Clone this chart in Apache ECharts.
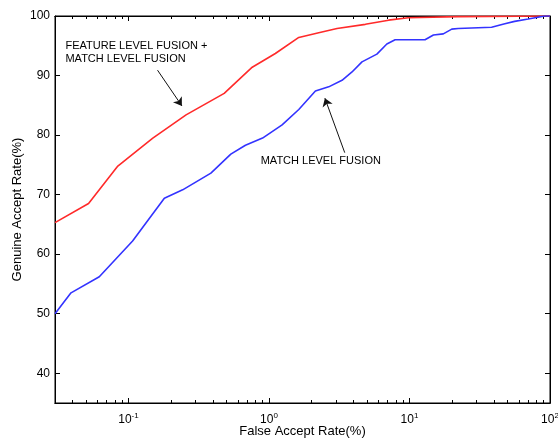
<!DOCTYPE html>
<html>
<head>
<meta charset="utf-8">
<script src="https://cdn.jsdelivr.net/npm/echarts@6/dist/echarts.min.js"></script>
<style>
    html, body { margin: 0; padding: 0; background: #fff; }
    #chart { width: 558px; height: 440px; }
</style>
</head>
<body>
<div id="chart"></div>
<script>
// feature level + match level fusion (red)
const fusionFar = [0.03, 0.052, 0.084, 0.149, 0.257, 0.48, 0.76, 1.11, 1.63, 2.26, 3.05, 4.85, 7.1, 9.8, 22, 100]
const fusionGar = [65.3, 68.5, 74.8, 79.5, 83.4, 87.0, 91.4, 93.7, 96.4, 97.2, 97.9, 98.6, 99.3, 99.7, 99.9, 100]

// match level fusion only (blue)
const matchFar = [0.03, 0.039, 0.062, 0.107, 0.18, 0.243, 0.386, 0.535, 0.68, 0.90, 1.24, 1.63, 2.14, 2.66, 3.31, 3.9,
    4.59, 5.86, 6.9, 7.9, 12.9, 14.8, 17.4, 20, 22.2, 38.4, 47.7, 56, 69.9, 82, 91.6, 100]
const matchGar = [50.0, 53.5, 56.2, 62.2, 69.4, 70.8, 73.6, 76.8, 78.3, 79.5, 81.7, 84.3, 87.4, 88.1, 89.2, 90.6,
    92.3, 93.6, 95.3, 96.0, 96.0, 96.8, 97.0, 97.8, 97.9, 98.1, 98.7, 99.1, 99.5, 99.8, 100, 100]

// axis ticks
const xMajor = [0.1, 1, 10, 100]
const xMinor = [0.04, 0.05, 0.06, 0.07, 0.08, 0.09, 0.2, 0.3, 0.4, 0.5, 0.6, 0.7, 0.8, 0.9,
    2, 3, 4, 5, 6, 7, 8, 9, 20, 30, 40, 50, 60, 70, 80, 90]
const yTicks = [40, 50, 60, 70, 80, 90, 100]

const font = 'Liberation Sans, Arial, sans-serif'

const pairs = (xs, ys) => xs.map((x, i) => [x, ys[i]])

function logAxis(position, ticks, len, withLabel) {
    return {
        type: 'log',
        logBase: 10,
        min: 0.03,
        max: 100,
        position: position,
        axisLine: { show: true, onZero: false, lineStyle: { color: '#000', width: 1 } },
        splitLine: { show: false },
        axisTick: {
            show: true,
            inside: true,
            length: len,
            customValues: ticks,
            lineStyle: { color: '#000', width: 1 }
        },
        axisLabel: withLabel ? {
            show: true,
            customValues: xMajor,
            margin: 9,
            fontFamily: font,
            color: '#000',
            formatter: v => `{b|10}{e|${Math.round(Math.log10(v))}}`,
            rich: {
                b: { fontSize: 12, fontFamily: font, color: '#000' },
                e: { fontSize: 8, fontFamily: font, color: '#000', padding: [0, 0, 7, 0] }
            }
        } : { show: false },
        name: withLabel ? 'False Accept Rate(%)' : '',
        nameLocation: 'middle',
        nameMoveOverlap: false,
        nameGap: 22,
        nameTextStyle: { fontFamily: font, fontSize: 13, color: '#000' }
    }
}

function valAxis(position, withLabel) {
    return {
        type: 'value',
        min: 35,
        max: 100,
        position: position,
        axisLine: { show: true, onZero: false, lineStyle: { color: '#000', width: 1 } },
        splitLine: { show: false },
        axisTick: {
            show: true,
            inside: true,
            length: 5,
            customValues: yTicks,
            lineStyle: { color: '#000' }
        },
        axisLabel: withLabel ? {
            show: true,
            customValues: yTicks,
            margin: 5,
            fontFamily: font,
            fontSize: 12,
            color: '#000'
        } : { show: false },
        name: withLabel ? 'Genuine Accept Rate(%)' : '',
        nameLocation: 'middle',
        nameMoveOverlap: false,
        nameGap: 31,
        nameTextStyle: { fontFamily: font, fontSize: 13, color: '#000' }
    }
}

const noteLabel = {
    show: true,
    position: [0, 0],
    align: 'left',
    verticalAlign: 'middle',
    fontFamily: font,
    fontSize: 11,
    lineHeight: 13,
    color: '#000'
}

const option = {
    animation: false,
    backgroundColor: '#fff',
    grid: {
        left: 55, right: 8, top: 16, bottom: 37,
        containLabel: false,
        outerBoundsMode: 'none',
        show: true,
        borderColor: '#000',
        borderWidth: 1
    },
    xAxis: [
        logAxis('bottom', xMajor, 5, true),
        logAxis('bottom', xMinor, 3, false),
        logAxis('top', xMajor, 5, false),
        logAxis('top', xMinor, 3, false)
    ],
    yAxis: [
        valAxis('left', true),
        valAxis('right', false)
    ],
    series: [
        {
            type: 'line',
            data: pairs(fusionFar, fusionGar),
            showSymbol: false,
            lineStyle: { color: '#ff2a2a', width: 1.6 },
            itemStyle: { color: '#ff2a2a' },
            z: 3,
            markLine: {
                silent: true,
                symbol: ['none', 'arrow'],
                symbolSize: 8,
                label: { show: false },
                lineStyle: { color: '#111', width: 1, type: 'solid' },
                data: [
                    [{ coord: [0.161, 90.9] }, { coord: [0.240, 84.9] }],
                    [{ coord: [3.46, 77.05] }, { coord: [2.5, 86.2] }]
                ]
            },
            markPoint: {
                silent: true,
                symbol: 'circle',
                symbolSize: 0,
                data: [
                    {
                        coord: [0.0356, 93.8],
                        label: Object.assign({}, noteLabel, {
                            formatter: 'FEATURE LEVEL FUSION +\nMATCH LEVEL FUSION'
                        })
                    },
                    {
                        coord: [0.873, 75.7],
                        label: Object.assign({}, noteLabel, { formatter: 'MATCH LEVEL FUSION' })
                    }
                ]
            }
        },
        {
            type: 'line',
            data: pairs(matchFar, matchGar),
            showSymbol: false,
            lineStyle: { color: '#3333ff', width: 1.6 },
            itemStyle: { color: '#3333ff' },
            z: 3
        }
    ]
}

const chart = echarts.init(document.getElementById('chart'), null, { renderer: 'canvas' })
chart.setOption(option)
</script>
</body>
</html>
